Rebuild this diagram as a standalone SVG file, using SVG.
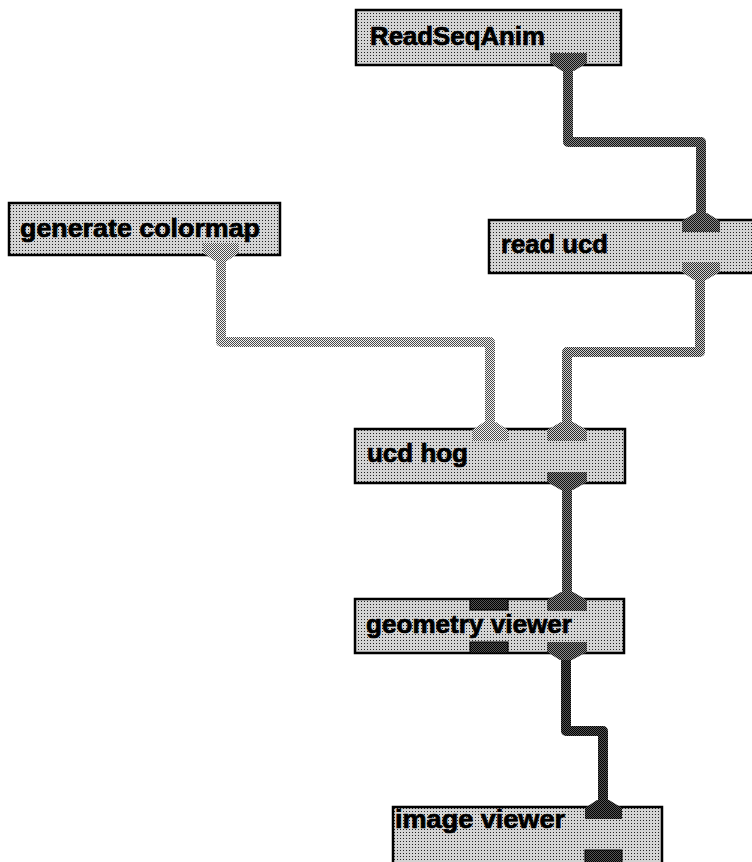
<svg xmlns="http://www.w3.org/2000/svg" width="752" height="862" viewBox="0 0 752 862">
<defs>
<pattern id="pBox" width="3" height="3" patternUnits="userSpaceOnUse">
<rect width="3" height="3" fill="#d4d4d4"/><rect x="1" y="1" width="1" height="1" fill="#222"/>
</pattern>
<pattern id="pDark" width="2" height="2" patternUnits="userSpaceOnUse">
<rect width="2" height="2" fill="#8a8a8a"/><rect width="1" height="1" fill="#111"/><rect x="1" y="1" width="1" height="1" fill="#111"/>
</pattern>
<pattern id="pMed" width="2" height="2" patternUnits="userSpaceOnUse">
<rect width="2" height="2" fill="#d0d0d0"/><rect width="1" height="1" fill="#2a2a2a"/><rect x="1" y="1" width="1" height="1" fill="#2a2a2a"/>
</pattern>
<pattern id="pLight" width="2" height="2" patternUnits="userSpaceOnUse">
<rect width="2" height="2" fill="#f2f2f2"/><rect width="1" height="1" fill="#4a4a4a"/><rect x="1" y="1" width="1" height="1" fill="#4a4a4a"/>
</pattern>
<pattern id="pBlack" width="2" height="2" patternUnits="userSpaceOnUse">
<rect width="2" height="2" fill="#555"/><rect width="1" height="1" fill="#000"/><rect x="1" y="1" width="1" height="1" fill="#000"/>
</pattern>
</defs>
<style>
.box{fill:url(#pBox);stroke:#000;stroke-width:2.5}
.lbl{font-family:"Liberation Sans",Arial,Helvetica,sans-serif;font-weight:bold;font-size:25px;fill:#000;stroke:#000;stroke-width:0.7}
.wire{fill:none;stroke-width:10;stroke-linejoin:round}
.dark{fill:url(#pDark)}
.med{fill:url(#pMed)}
.light{fill:url(#pLight)}
.black{fill:url(#pBlack)}
.unc{fill:url(#pBlack);stroke:#000;stroke-width:1}
</style>
<rect width="752" height="862" fill="#fff"/>

<g id="connectors">
<path class="wire" stroke="url(#pDark)" d="M568 66 V142 H701 V218"/>
<path class="wire" stroke="url(#pLight)" d="M221 256 V342 H490 V427"/>
<path class="wire" stroke="url(#pMed)" d="M700 274 V352 H567 V427"/>
<path class="wire" stroke="url(#pDark)" d="M567 484 V597"/>
<path class="wire" stroke="url(#pBlack)" d="M566 654 V731 H603 V805"/>
</g>

<g id="ReadSeqAnim">
<rect class="box" x="356" y="10" width="265" height="55"/>
<text class="lbl" x="370" y="45" textLength="175" lengthAdjust="spacingAndGlyphs">ReadSeqAnim</text>
<path class="dark" d="M550 53 H587 V63 L574 71 H562 L550 63 Z"/>
</g>

<g id="generate_colormap">
<rect class="box" x="9" y="203" width="271" height="52"/>
<text class="lbl" x="20" y="237" textLength="240" lengthAdjust="spacingAndGlyphs">generate colormap</text>
<path class="light" d="M203 243 H239 V253 L227 261 H215 L203 253 Z"/>
</g>

<g id="read_ucd">
<rect class="box" x="489" y="220" width="280" height="53"/>
<text class="lbl" x="501" y="253" textLength="107" lengthAdjust="spacingAndGlyphs">read ucd</text>
<path class="dark" d="M695 213 H707 L720 221 V232 H682 V221 Z"/>
<path class="med" d="M682 262 H720 V272 L706 280 H694 L682 272 Z"/>
</g>

<g id="ucd_hog">
<rect class="box" x="355" y="429" width="270" height="54"/>
<text class="lbl" x="367" y="462" textLength="101" lengthAdjust="spacingAndGlyphs">ucd hog</text>
<path class="light" d="M484 422 H496 L508 430 V441 H472 V430 Z"/>
<path class="med" d="M561 422 H573 L587 430 V441 H547 V430 Z"/>
<path class="dark" d="M547 472 H587 V482 L573 490 H561 L547 482 Z"/>
</g>

<g id="geometry_viewer">
<rect class="box" x="355" y="599" width="269" height="54"/>
<text class="lbl" x="366" y="633" textLength="206" lengthAdjust="spacingAndGlyphs">geometry viewer</text>
<rect class="unc" x="470" y="599" width="38" height="11"/>
<rect class="unc" x="470" y="642" width="38" height="11"/>
<path class="dark" d="M561 592 H573 L587 600 V611 H547 V600 Z"/>
<path class="dark" d="M547 642 H587 V652 L572 660 H560 L547 652 Z"/>
</g>

<g id="image_viewer">
<rect class="box" x="393" y="807" width="269" height="60"/>
<text class="lbl" x="395" y="828" textLength="170" lengthAdjust="spacingAndGlyphs">image viewer</text>
<path class="black" d="M597 800 H609 L622 808 V819 H585 V808 Z"/>
<rect class="unc" x="585" y="850" width="37" height="13"/>
</g>
</svg>
